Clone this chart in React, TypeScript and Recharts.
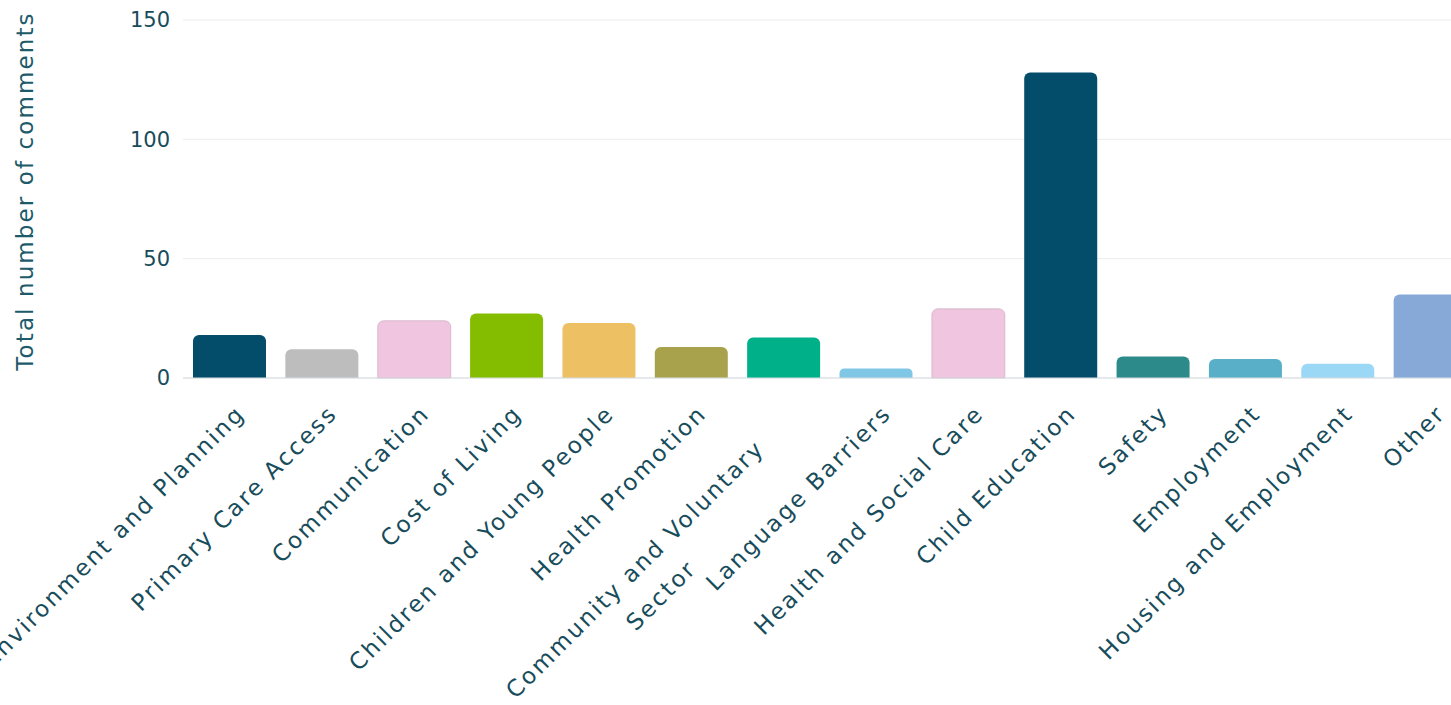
import { BarChart, Bar, Cell, XAxis, YAxis, CartesianGrid } from "recharts";

const categories = [
  "Environment and Planning",
  "Primary Care Access",
  "Communication",
  "Cost of Living",
  "Children and Young People",
  "Health Promotion",
  "Community and Voluntary\nSector",
  "Language Barriers",
  "Health and Social Care",
  "Child Education",
  "Safety",
  "Employment",
  "Housing and Employment",
  "Other",
];
const comments = [18, 12, 24, 27, 23, 13, 17, 4, 29, 128, 9, 8, 6, 35];
const barColors = [
  "#034d6b", "#bdbdbd", "#efc5df", "#84bc00", "#eec064", "#a9a24c", "#00b089",
  "#80c7e5", "#efc5df", "#034d6b", "#2c8a8a", "#58afc7", "#9ad8f5", "#86a9d8",
];
const yTicks = [0, 50, 100, 150];

const data = categories.map((name, i) => ({ name, comments: comments[i] }));

const font = '"DejaVu Sans", sans-serif';
const ink = "#174c5b";
const labelSize = 23;
const spacing = 2.3;

let measureCtx: any = null;
function textWidth(text: string) {
  if (!measureCtx) measureCtx = document.createElement("canvas").getContext("2d");
  measureCtx.font = `${labelSize}px ${font}`;
  measureCtx.letterSpacing = `${spacing}px`;
  return measureCtx.measureText(text).width;
}

// rotated labels end just right of the bar centre; wrapped lines are centred on each other
function CategoryTick({ x, y, payload }: any) {
  const lines = String(payload.value).split("\n");
  const ax = x + 17;
  const ay = y + 37;
  const style = { fontFamily: font, fontSize: labelSize, fill: ink, letterSpacing: spacing };
  if (lines.length === 1) {
    return (
      <text x={ax} y={ay} transform={`rotate(-45 ${ax} ${ay})`} textAnchor="end" style={style}>
        {lines[0]}
      </text>
    );
  }
  const endX = ax - 49;
  const w = textWidth(lines[0]);
  return (
    <g transform={`rotate(-45 ${ax} ${ay})`} style={style}>
      <text x={endX} y={ay} textAnchor="end">{lines[0]}</text>
      <text x={endX - w / 2} y={ay + 37} textAnchor="middle">{lines[1]}</text>
    </g>
  );
}

function AxisTitle({ viewBox }: any) {
  const cx = 25;
  const cy = viewBox.y + viewBox.height / 2 - 8;
  return (
    <text
      x={cx}
      y={cy}
      transform={`rotate(-90 ${cx} ${cy})`}
      textAnchor="middle"
      dominantBaseline="central"
      style={{ fontFamily: font, fontSize: 23, fill: "#1d5a6a", letterSpacing: 2.1 }}
    >
      Total number of comments
    </text>
  );
}

export default function App() {
  return (
    <div style={{ position: "fixed", left: 0, top: 0, width: 1451, height: 705, overflow: "hidden", background: "#fff" }}>
      <BarChart width={1476} height={705} data={data} margin={{ top: 20, right: 0, left: 0, bottom: 0 }}>
        <CartesianGrid horizontal vertical={false} stroke="#ececec" />
        <XAxis
          dataKey="name"
          interval={0}
          height={327}
          tickLine={false}
          tickSize={0}
          tickMargin={0}
          axisLine={{ stroke: "#d6dde3" }}
          tick={<CategoryTick />}
        />
        <YAxis
          width={183}
          domain={[0, 150]}
          ticks={yTicks}
          axisLine={false}
          tickLine={false}
          tickSize={0}
          tickMargin={13}
          tick={{ fontFamily: font, fontSize: 21, fill: ink }}
          label={{ content: <AxisTitle /> }}
        />
        <Bar dataKey="comments" barSize={73} radius={[6, 6, 0, 0]} isAnimationActive={false}>
          {data.map((d, i) => (
            <Cell
              key={d.name}
              fill={barColors[i]}
              stroke={barColors[i] === "#efc5df" ? "#c7a3b9" : "none"}
              strokeWidth={0.6}
            />
          ))}
        </Bar>
      </BarChart>
    </div>
  );
}
